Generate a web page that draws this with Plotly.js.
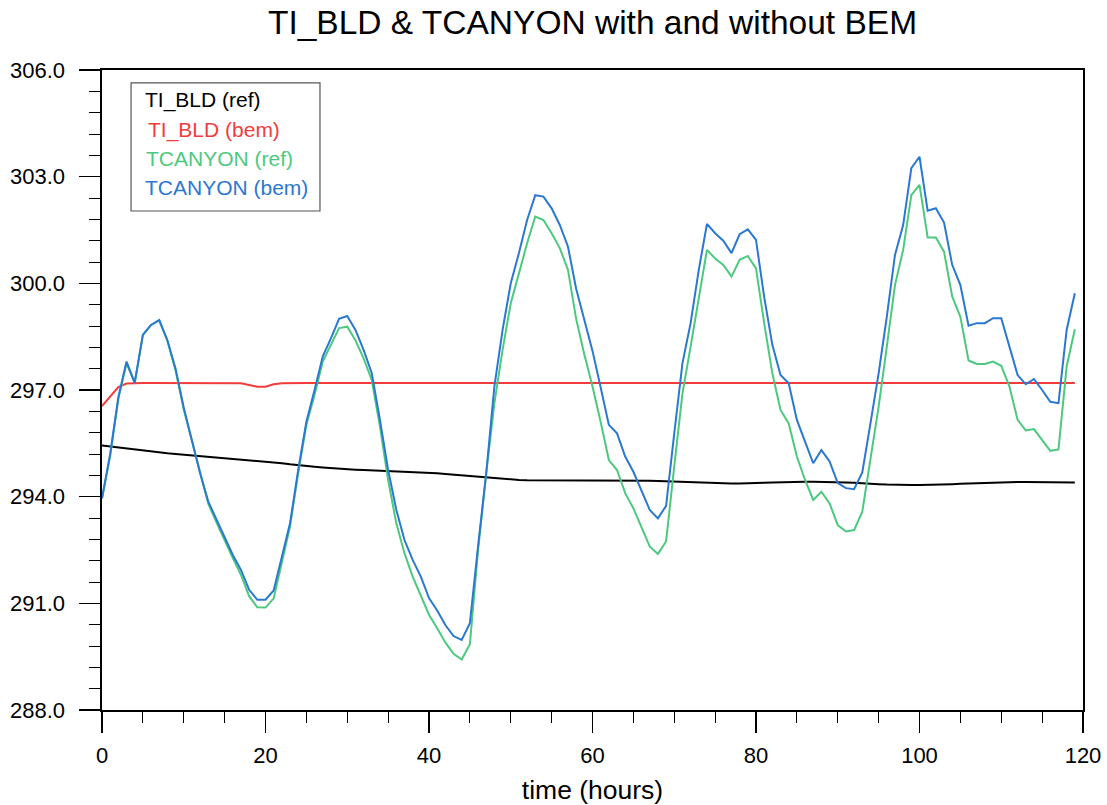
<!DOCTYPE html>
<html><head><meta charset="utf-8">
<script src="https://cdn.plot.ly/plotly-3.0.1.min.js"></script>
<style>body{margin:0;background:#fff}#chart{width:1107px;height:805px}</style>
</head><body><div id="chart"></div>
<script>
const hours = Array.from({length: 120}, (_, i) => i);

const tiBldRef = [295.44,295.41,295.38,295.35,295.32,295.29,295.26,295.24,295.22,295.20,
295.18,295.16,295.15,295.14,295.12,295.10,295.08,295.06,295.04,295.02,
295.00,294.97,294.94,294.91,294.88,294.86,294.84,294.82,294.80,294.78,
294.77,294.76,294.75,294.74,294.73,294.73,294.72,294.72,294.71,294.70,
294.68,294.66,294.64,294.62,294.60,294.58,294.56,294.53,294.51,294.49,
294.48,294.47,294.46,294.46,294.45,294.45,294.45,294.45,294.46,294.46,
294.47,294.47,294.47,294.47,294.47,294.46,294.46,294.45,294.44,294.43,
294.42,294.41,294.40,294.39,294.38,294.38,294.37,294.37,294.37,294.37,
294.38,294.39,294.40,294.41,294.42,294.42,294.42,294.42,294.42,294.42,
294.41,294.40,294.39,294.37,294.36,294.35,294.34,294.33,294.33,294.33,
294.33,294.33,294.33,294.34,294.35,294.36,294.37,294.38,294.39,294.40,
294.40,294.41,294.41,294.41,294.41,294.41,294.41,294.40,294.40,294.40];

const tiBldBem = [296.55,296.82,297.08,297.18,297.20,297.20,297.20,297.20,297.20,297.20,
297.20,297.20,297.20,297.20,297.20,297.20,297.20,297.19,297.14,297.09,
297.09,297.16,297.19,297.20,297.20,297.20,297.20,297.20,297.20,297.20,
297.20,297.20,297.20,297.20,297.20,297.20,297.20,297.20,297.20,297.20,
297.20,297.20,297.20,297.20,297.20,297.20,297.20,297.20,297.20,297.20,
297.20,297.20,297.20,297.20,297.20,297.20,297.20,297.20,297.20,297.20,
297.20,297.20,297.20,297.20,297.20,297.20,297.20,297.20,297.20,297.20,
297.20,297.20,297.20,297.20,297.20,297.20,297.20,297.20,297.20,297.20,
297.20,297.20,297.20,297.20,297.20,297.20,297.20,297.20,297.20,297.20,
297.20,297.20,297.20,297.20,297.20,297.20,297.20,297.20,297.20,297.20,
297.20,297.20,297.20,297.20,297.20,297.20,297.20,297.20,297.20,297.20,
297.20,297.20,297.20,297.20,297.20,297.20,297.20,297.20,297.20,297.20];

const tcanyonRef = [293.95,295.15,296.75,297.75,297.20,298.55,298.83,298.95,298.38,297.55,
296.45,295.55,294.62,293.80,293.28,292.75,292.27,291.80,291.20,290.89,
290.88,291.14,292.13,293.16,294.66,296.02,296.86,297.80,298.27,298.74,
298.78,298.40,297.89,297.28,295.97,294.47,293.25,292.41,291.75,291.19,
290.68,290.30,289.90,289.58,289.42,289.85,292.50,294.66,296.63,298.13,
299.44,300.28,301.13,301.88,301.78,301.41,300.99,300.38,299.00,298.00,
297.10,296.10,295.03,294.75,294.10,293.67,293.16,292.60,292.39,292.74,
294.85,296.90,298.22,299.62,300.94,300.70,300.52,300.19,300.66,300.77,
300.42,298.88,297.47,296.44,296.06,295.13,294.47,293.91,294.14,293.81,
293.20,293.02,293.06,293.58,295.04,296.53,298.22,299.95,300.94,302.48,
302.77,301.29,301.29,300.89,299.63,299.06,297.83,297.73,297.73,297.80,
297.68,297.10,296.16,295.86,295.90,295.60,295.29,295.33,297.66,298.71];

const tcanyonBem = [293.95,295.20,296.80,297.80,297.20,298.55,298.83,298.97,298.40,297.60,
296.50,295.60,294.66,293.86,293.35,292.83,292.36,291.94,291.38,291.10,
291.10,291.36,292.27,293.25,294.75,296.11,297.00,297.94,298.45,299.00,
299.08,298.69,298.13,297.47,296.16,294.75,293.63,292.78,292.22,291.75,
291.15,290.80,290.39,290.08,289.97,290.44,292.60,294.66,297.10,298.69,
300.00,300.85,301.78,302.48,302.44,302.11,301.64,301.03,299.85,298.97,
298.10,297.07,296.02,295.78,295.13,294.70,294.19,293.63,293.39,293.74,
295.78,297.75,298.88,300.38,301.67,301.41,301.20,300.85,301.38,301.52,
301.22,299.62,298.27,297.42,297.19,296.16,295.55,294.94,295.31,294.99,
294.38,294.24,294.21,294.68,296.06,297.47,299.06,300.80,301.64,303.24,
303.56,302.04,302.11,301.71,300.52,299.95,298.81,298.88,298.88,299.02,
299.02,298.22,297.42,297.16,297.31,297.00,296.67,296.63,298.69,299.72];

const seriesNames = ["TI_BLD (ref)", "TI_BLD (bem)", "TCANYON (ref)", "TCANYON (bem)"];
const seriesColors = ["#000000", "#f23c3c", "#4cc97e", "#2a78d2"];
const seriesData = [tiBldRef, tiBldBem, tcanyonRef, tcanyonBem];

const xTicks = [0, 20, 40, 60, 80, 100, 120];
const yTicks = [288, 291, 294, 297, 300, 303, 306];

const traces = seriesData.map((ys, i) => ({
  x: hours, y: ys, type: 'scatter', mode: 'lines', name: seriesNames[i],
  line: {color: seriesColors[i], width: 2}, showlegend: false
}));

const font = 'Liberation Sans, Arial, Helvetica, sans-serif';
const legendY = [0.953, 0.906, 0.861, 0.816];
const legendX = [0.0418, 0.0445, 0.0425, 0.0418];
const annotations = seriesNames.map((n, i) => ({
  text: n, xref: 'paper', yref: 'paper', x: legendX[i], y: legendY[i],
  xanchor: 'left', yanchor: 'middle', showarrow: false,
  font: {family: font, size: 21, color: seriesColors[i]}
}));

const layout = {
  width: 1107, height: 805,
  margin: {l: 102, r: 24, t: 70, b: 95},
  paper_bgcolor: '#fff', plot_bgcolor: '#fff',
  title: {text: 'TI_BLD & TCANYON with and without BEM', x: 0.5, xref: 'paper',
          y: 0.972, yref: 'container', yanchor: 'middle',
          font: {family: font, size: 33.5, color: '#000'}},
  xaxis: {range: [0, 120], tickvals: xTicks, ticktext: xTicks.map(String),
          ticks: 'outside', ticklen: 21, tickwidth: 1.2, tickcolor: '#000',
          minor: {dtick: 5, tick0: 0, ticks: 'outside', ticklen: 11, tickwidth: 1, tickcolor: '#000'},
          showline: true, linecolor: '#000', linewidth: 1.6, mirror: true,
          showgrid: false, zeroline: false, ticklabelstandoff: 4,
          tickfont: {family: font, size: 22, color: '#000'},
          title: {text: 'time (hours)', standoff: 16, font: {family: font, size: 26.5, color: '#000'}}},
  yaxis: {range: [288, 306], tickvals: yTicks, ticktext: yTicks.map(v => v.toFixed(1)),
          ticks: 'outside', ticklen: 21, tickwidth: 1.2, tickcolor: '#000',
          minor: {dtick: 0.6, tick0: 288, ticks: 'outside', ticklen: 11, tickwidth: 1, tickcolor: '#000'},
          showline: true, linecolor: '#000', linewidth: 1.6, mirror: true,
          showgrid: false, zeroline: false, ticklabelstandoff: 10,
          tickfont: {family: font, size: 22, color: '#000'}},
  shapes: [{type: 'rect', xref: 'paper', yref: 'paper', x0: 0.0296, x1: 0.2222, y0: 0.7797, y1: 0.980,
            line: {color: '#555', width: 1.2}, fillcolor: 'rgba(255,255,255,0)'}],
  annotations: annotations
};

Plotly.newPlot('chart', traces, layout, {displayModeBar: false, staticPlot: true});
</script>
</body></html>
